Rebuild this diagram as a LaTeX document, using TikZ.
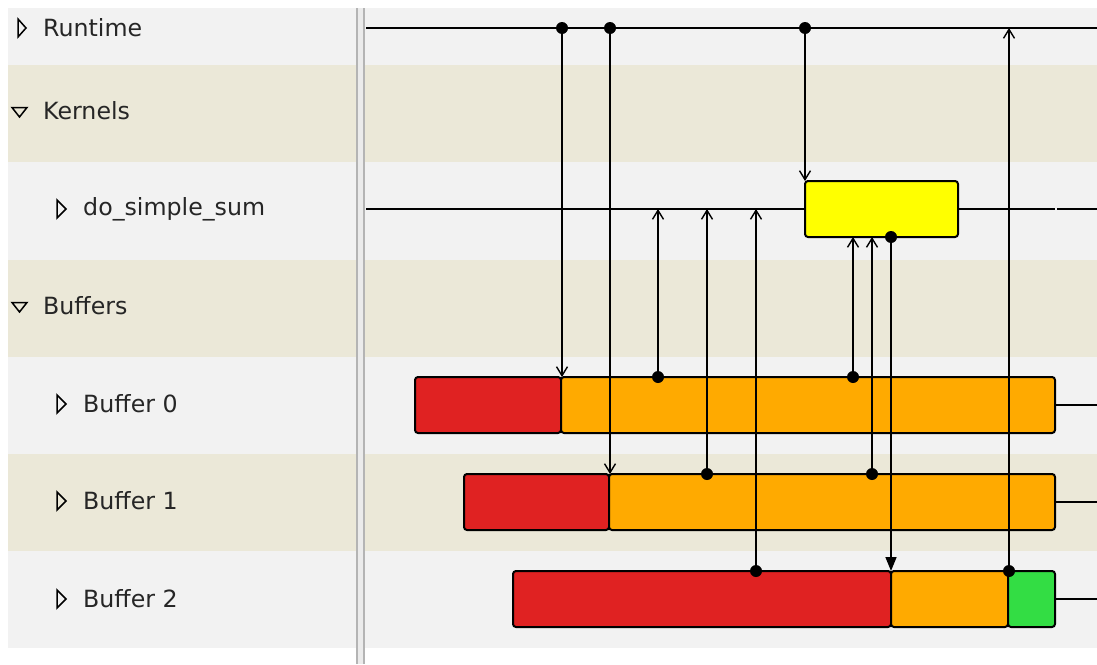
\documentclass[tikz,border=0pt]{standalone}
\usepackage{fontspec}
\setmainfont{DejaVu Sans}
\usetikzlibrary{arrows.meta}

\definecolor{rowgray}{HTML}{F2F2F2}
\definecolor{rowbeige}{HTML}{EBE8D8}
\definecolor{segred}{HTML}{E02222}
\definecolor{segorange}{HTML}{FFAA00}
\definecolor{segyellow}{HTML}{FFFF00}
\definecolor{seggreen}{HTML}{33DD44}
\definecolor{splitgray}{HTML}{B4B4B4}

\tikzset{
  rowname/.style={anchor=west, inner sep=0pt, font=\fontsize{23.7}{28}\selectfont, text=black!85},
  seg/.style={draw, line width=2pt, rounded corners=3pt, minimum height=56pt, inner sep=0pt, outer sep=0pt, anchor=north west},
  track/.style={line width=1.7pt},
  link/.style={line width=1.6pt, -{Straight Barb[length=9pt,width=11pt,line width=1.4pt]}},
  linkfull/.style={line width=1.6pt, -{Triangle[length=14pt,width=11pt]}},
  expander/.style={line width=1.5pt, line join=miter}
}

\begin{document}
\begin{tikzpicture}[x=1pt,y=-1pt]
	\useasboundingbox (0,0) rectangle (1097,664);
	\fill[white] (0,0) rectangle (1097,664);
	% row bands
	\foreach \y/\h/\c in {8/57/rowgray, 65/97/rowbeige, 162/98/rowgray, 260/97/rowbeige, 357/97/rowgray, 454/97/rowbeige, 551/97/rowgray}
		\fill[\c] (8,\y) rectangle (1097,\y+\h);
	% splitter
	\fill[black!8] (356,8) rectangle (365,664);
	\draw[splitgray, line width=1.8pt] (357,8) -- (357,664);
	\draw[splitgray, line width=1.8pt] (364,8) -- (364,664);

	% tree
	\draw[expander] (18,19) -- (26,28) -- (18,37) -- cycle;
	\draw[expander] (12,107.5) -- (27,107.5) -- (19.5,117) -- cycle;
	\draw[expander] (12,302.5) -- (27,302.5) -- (19.5,312) -- cycle;
	\foreach \y in {209,404,501,599}
		\draw[expander] (57,\y-9) -- (66,\y) -- (57,\y+9) -- cycle;
	\node[rowname] (runtime) at (43,28) {Runtime};
	\node[rowname] (kernels) at (43,111) {Kernels};
	\node[rowname] (sum) at (83,209) {do\_simple\_sum};
	\node[rowname] (buffers) at (43,306) {Buffers};
	\node[rowname] (buf0) at (83,404) {Buffer 0};
	\node[rowname] (buf1) at (83,501) {Buffer 1};
	\node[rowname] (buf2) at (83,599) {Buffer 2};

	% tracks
	\coordinate (rt0) at (366,28);
	\coordinate (rt9) at (1097,28);
	\coordinate (ks0) at (366,209);
	\coordinate (ks8) at (1055,209);
	\coordinate (ks9) at (1097,209);
	\coordinate (e0) at (1097,405);
	\coordinate (e1) at (1097,502);
	\coordinate (e2) at (1097,599);
	\draw[track] (rt0) -- (rt9);

	% segments
	\node[seg, fill=segyellow, minimum width=153pt] (kbox) at (805,181) {};
	\node[seg, fill=segred, minimum width=146pt] (b0r) at (415,377) {};
	\node[seg, fill=segorange, minimum width=494pt] (b0o) at (561,377) {};
	\node[seg, fill=segred, minimum width=145pt] (b1r) at (464,474) {};
	\node[seg, fill=segorange, minimum width=446pt] (b1o) at (609,474) {};
	\node[seg, fill=segred, minimum width=378pt] (b2r) at (513,571) {};
	\node[seg, fill=segorange, minimum width=117pt] (b2o) at (891,571) {};
	\node[seg, fill=seggreen, minimum width=47pt] (b2g) at (1008,571) {};
	\draw[track] (ks0) -- (kbox.west);
	\draw[track] (kbox.east) -- (ks8);
	\draw[track] ([xshift=2pt]ks8) -- (ks9);
	\draw[track] (b0o.east) -- (e0);
	\draw[track] (b1o.east) -- (e1);
	\draw[track] (b2g.east) -- (e2);

	% event points
	\coordinate (rt1) at (562,28);
	\coordinate (rt2) at (610,28);
	\coordinate (rt3) at (805,28);
	\coordinate (rt4) at (1009,28);
	\coordinate (ks1) at (658,209);
	\coordinate (ks2) at (707,209);
	\coordinate (ks3) at (756,209);
	\coordinate (kb1) at (853,237);
	\coordinate (kb2) at (872,237);
	\coordinate (kout) at (891,237);
	\coordinate (b0in) at (562,377);
	\coordinate (b0a) at (658,377);
	\coordinate (b0b) at (853,377);
	\coordinate (b1in) at (610,474);
	\coordinate (b1a) at (707,474);
	\coordinate (b1b) at (872,474);
	\coordinate (b2in) at (891,571);
	\coordinate (b2a) at (756,571);
	\coordinate (b2b) at (1009,571);

	% dependencies
	\draw[link] (rt1) -- (b0in);
	\draw[link] (rt2) -- (b1in);
	\draw[link] (rt3) -- (kbox.north west);
	\draw[link] (b0a) -- (ks1);
	\draw[link] (b1a) -- (ks2);
	\draw[link] (b2a) -- (ks3);
	\draw[link] (b0b) -- (kb1);
	\draw[link] (b1b) -- (kb2);
	\draw[linkfull] (kout) -- (b2in);
	\draw[link] (b2b) -- (rt4);
	\foreach \p in {rt1,rt2,rt3,b0a,b1a,b2a,b0b,b1b,kout,b2b}
		\fill (\p) circle (6pt);
\end{tikzpicture}
\end{document}
